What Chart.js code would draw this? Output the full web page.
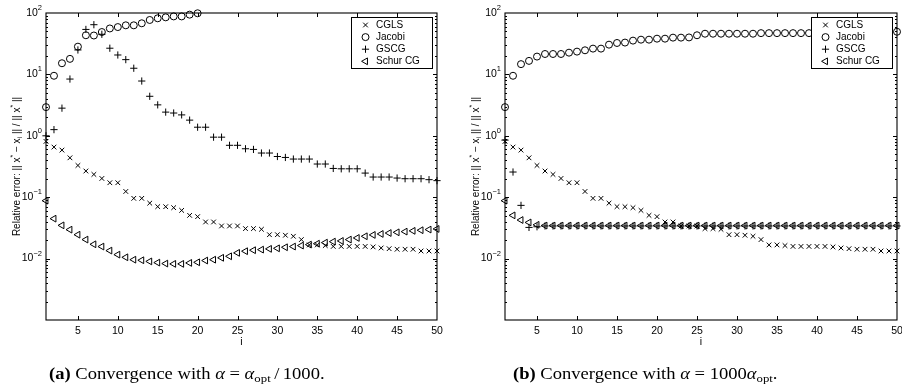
<!DOCTYPE html>
<html>
<head>
<meta charset="utf-8">
<script src="https://cdn.jsdelivr.net/npm/chart.js@4/dist/chart.umd.min.js"></script>
<style>
  html, body { margin: 0; padding: 0; background: #fff; }
  #wrap { position: relative; width: 902px; height: 391px; }
  #wrap canvas { position: absolute; top: 0; }
</style>
</head>
<body>
<div id="wrap">
  <canvas id="chartA" width="451" height="391" style="left:0"></canvas>
  <canvas id="chartB" width="451" height="391" style="left:451px"></canvas>
</div>
<script>
// iteration index and axis ticks
const ITER = [1,2,3,4,5,6,7,8,9,10,11,12,13,14,15,16,17,18,19,20,21,22,23,24,25,
              26,27,28,29,30,31,32,33,34,35,36,37,38,39,40,41,42,43,44,45,46,47,48,49,50];
const X_TICKS = [5, 10, 15, 20, 25, 30, 35, 40, 45, 50];
const Y_TICKS = [0.01, 0.1, 1, 10, 100];
const Y_TICK_EXP = ['\u22122', '\u22121', '0', '1', '2'];
const SERIES_NAMES = ['CGLS', 'Jacobi', 'GSCG', 'Schur CG'];

// CGLS does not depend on alpha, same curve in both panels
const CGLS = [0.81, 0.655, 0.585, 0.438, 0.329, 0.267, 0.235, 0.202, 0.172, 0.172,
              0.124, 0.0958, 0.0958, 0.080, 0.0702, 0.070, 0.0675, 0.061, 0.0506, 0.0482,
              0.0395, 0.0395, 0.034, 0.034, 0.034, 0.0308, 0.0308, 0.030, 0.0245, 0.0245,
              0.024, 0.0231, 0.0204, 0.0167, 0.0167, 0.0163, 0.0158, 0.0158, 0.0158, 0.0158,
              0.0158, 0.0155, 0.0149, 0.0145, 0.0142, 0.0142, 0.0142, 0.0133, 0.0133, 0.0133];

// (a) alpha = alpha_opt / 1000
const JACOBI_A = [2.93, 9.5, 15.2, 17.9, 28.3, 43.4, 43, 49, 56, 59,
                  63, 63, 68, 77, 82, 85, 88, 88, 94, 99,
                  null, null, null, null, null, null, null, null, null, null,
                  null, null, null, null, null, null, null, null, null, null,
                  null, null, null, null, null, null, null, null, null, null];
const GSCG_A = [1.0, 1.26, 2.82, 8.4, 25, 54, 64.5, 45, 26.7, 20.7,
                17.4, 12.6, 7.8, 4.4, 3.19, 2.43, 2.35, 2.19, 1.80, 1.38,
                1.38, 0.95, 0.95, 0.70, 0.70, 0.615, 0.60, 0.524, 0.524, 0.46,
                0.444, 0.418, 0.418, 0.418, 0.347, 0.347, 0.294, 0.29, 0.29, 0.29,
                0.247, 0.213, 0.213, 0.213, 0.205, 0.2, 0.2, 0.2, 0.193, 0.186];
const SCHUR_A = [0.0877, 0.0447, 0.0348, 0.0296, 0.0245, 0.0204, 0.0171, 0.0157, 0.0135, 0.0116,
                 0.0105, 0.0096, 0.0094, 0.0090, 0.0086, 0.0083, 0.0082, 0.0082, 0.0085, 0.0087,
                 0.0093, 0.0096, 0.0103, 0.0109, 0.0124, 0.0132, 0.0137, 0.0140, 0.0144, 0.0147,
                 0.0153, 0.0157, 0.0163, 0.0169, 0.0175, 0.0182, 0.0189, 0.0194, 0.0204, 0.0217,
                 0.0231, 0.0243, 0.0252, 0.0261, 0.0268, 0.0275, 0.0283, 0.0290, 0.0297, 0.0304];

// (b) alpha = 1000 alpha_opt
const JACOBI_B = [2.93, 9.5, 14.7, 16.6, 19.5, 21.5, 21.5, 21.5, 22.6, 23.5,
                  24.7, 26.3, 26.3, 30.5, 32.5, 33, 35.5, 36.8, 36.8, 38.2,
                  38.2, 39.7, 39.7, 40, 43.4, 46, 46, 46, 46, 46,
                  46, 46, 47, 47, 47, 47, 47, 47, 47, 48,
                  48, 48, 48, 48, 48, 48, 48, 48, 48, 49.5];
const GSCG_B = [0.85, 0.257, 0.0736, 0.0322, 0.033, 0.034, 0.034, 0.034, 0.034, 0.034,
                0.034, 0.034, 0.034, 0.034, 0.034, 0.034, 0.034, 0.034, 0.034, 0.034,
                0.034, 0.034, 0.034, 0.034, 0.034, 0.034, 0.034, 0.034, 0.034, 0.034,
                0.034, 0.034, 0.034, 0.034, 0.034, 0.034, 0.034, 0.034, 0.034, 0.034,
                0.034, 0.034, 0.034, 0.034, 0.034, 0.034, 0.034, 0.034, 0.034, 0.034];
const SCHUR_B = [0.0877, 0.0506, 0.0425, 0.0388, 0.0355, 0.0345, 0.0345, 0.0345, 0.0345, 0.0345,
                 0.0345, 0.0345, 0.0345, 0.0345, 0.0345, 0.0345, 0.0345, 0.0345, 0.0345, 0.0345,
                 0.0345, 0.0345, 0.0345, 0.0345, 0.0345, 0.0345, 0.0345, 0.0345, 0.0345, 0.0345,
                 0.0345, 0.0345, 0.0345, 0.0345, 0.0345, 0.0345, 0.0345, 0.0345, 0.0345, 0.0345,
                 0.0345, 0.0345, 0.0345, 0.0345, 0.0345, 0.0345, 0.0345, 0.0345, 0.0345, 0.0345];

const SANS = '"Liberation Sans", Arial, sans-serif';
const SERIF = '"Liberation Serif", "Times New Roman", serif';

// marker per method, matlab style (x, o, +, <)
const MARKERS = [
  { pointStyle: 'crossRot', radius: 3.3, rotation: 0 },
  { pointStyle: 'circle',   radius: 3.5, rotation: 0 },
  { pointStyle: 'cross',    radius: 3.6, rotation: 0 },
  { pointStyle: 'triangle', radius: 3.9, rotation: 270 }
];

// draw a row of text runs (for super/subscripts), returns end x
function drawRuns(ctx, parts, x, y) {
  let cx = x;
  parts.forEach(p => {
    ctx.font = p.font;
    ctx.fillText(p.t, cx, y + (p.dy || 0));
    cx += ctx.measureText(p.t).width + (p.gap || 0);
  });
  return cx;
}
function runsWidth(ctx, parts) {
  let w = 0;
  parts.forEach(p => { ctx.font = p.font; w += ctx.measureText(p.t).width + (p.gap || 0); });
  return w;
}

const panelDecor = {
  id: 'panelDecor',
  afterDatasetsDraw(chart, args, opts) {
    const { ctx, chartArea: a } = chart;
    const xs = chart.scales.x, ys = chart.scales.y;
    ctx.save();
    ctx.strokeStyle = '#000';
    ctx.fillStyle = '#000';
    ctx.lineWidth = 1.1;

    // frame
    ctx.strokeRect(a.left, a.top, a.right - a.left, a.bottom - a.top);

    // inward ticks, x on bottom and top
    ctx.lineWidth = 1;
    ctx.beginPath();
    X_TICKS.forEach(v => {
      if (v === 50) return;
      const px = Math.round(xs.getPixelForValue(v)) + 0.5;
      ctx.moveTo(px, a.bottom); ctx.lineTo(px, a.bottom - 4);
      ctx.moveTo(px, a.top); ctx.lineTo(px, a.top + 4);
    });
    // log ticks left and right, majors + minors
    for (let e = -3; e < 2; e++) {
      for (let m = 1; m < 10; m++) {
        if (m === 1 && e === -3) continue;
        const py = Math.round(ys.getPixelForValue(m * Math.pow(10, e))) + 0.5;
        const len = m === 1 ? 4 : 2;
        ctx.moveTo(a.left, py); ctx.lineTo(a.left + len, py);
        ctx.moveTo(a.right, py); ctx.lineTo(a.right - len, py);
      }
    }
    ctx.stroke();

    // tick labels
    ctx.textBaseline = 'middle';
    ctx.textAlign = 'center';
    ctx.font = '10.5px ' + SANS;
    X_TICKS.forEach(v => ctx.fillText(String(v), xs.getPixelForValue(v), a.bottom + 11));
    ctx.fillText('i', (a.left + a.right) / 2, a.bottom + 22.5);

    ctx.textAlign = 'left';
    Y_TICKS.forEach((v, k) => {
      const parts = [
        { t: '10', font: '10.5px ' + SANS },
        { t: Y_TICK_EXP[k], font: '7.5px ' + SANS, dy: -5 }
      ];
      const w = runsWidth(ctx, parts);
      drawRuns(ctx, parts, a.left - 4 - w, ys.getPixelForValue(v));
    });

    // y axis title, rotated
    const f = '10px ' + SANS, fs = '7px ' + SANS;
    const title = [
      { t: 'Relative error: || x', font: f },
      { t: '*', font: fs, dy: -4 },
      { t: ' \u2212 x', font: f },
      { t: 'i', font: fs, dy: 3 },
      { t: ' || / || x', font: f },
      { t: '*', font: fs, dy: -4 },
      { t: ' ||', font: f }
    ];
    ctx.save();
    ctx.translate(a.left - 29, (a.top + a.bottom) / 2);
    ctx.rotate(-Math.PI / 2);
    drawRuns(ctx, title, -runsWidth(ctx, title) / 2, 0);
    ctx.restore();

    // legend box, top right
    const bx = a.right - 85.5, by = a.top + 4.5, bw = 81, bh = 51;
    ctx.fillStyle = '#fff';
    ctx.fillRect(bx, by, bw, bh);
    ctx.strokeRect(bx, by, bw, bh);
    ctx.fillStyle = '#000';
    ctx.font = '10px ' + SANS;
    SERIES_NAMES.forEach((name, k) => {
      const ry = by + 7.5 + k * 12.1;
      const mk = MARKERS[k];
      ctx.save();
      ctx.fillStyle = 'rgba(0,0,0,0)';
      ctx.lineWidth = 1;
      Chart.helpers.drawPoint(ctx, { pointStyle: mk.pointStyle, radius: mk.radius, rotation: mk.rotation, borderWidth: 1 }, bx + 14, ry);
      ctx.restore();
      ctx.fillText(name, bx + 24.5, ry);
    });

    // caption under the panel (book serif is wider than Times, stretch a bit)
    ctx.textBaseline = 'alphabetic';
    ctx.save();
    ctx.translate(opts.capX, 379);
    ctx.scale(1.16, 1);
    drawRuns(ctx, opts.caption, 0, 0);
    ctx.restore();
    ctx.restore();
  }
};

function seriesData(vals) {
  return ITER.map((i, k) => ({ x: i, y: vals[k] }));
}

function makePanel(id, series, pad, caption, capX) {
  return new Chart(document.getElementById(id), {
    type: 'scatter',
    data: {
      datasets: series.map((vals, k) => ({
        label: SERIES_NAMES[k],
        data: seriesData(vals),
        showLine: false,
        clip: false,
        pointStyle: MARKERS[k].pointStyle,
        pointRadius: MARKERS[k].radius,
        pointRotation: MARKERS[k].rotation,
        pointBorderWidth: 1,
        borderColor: '#000',
        backgroundColor: 'rgba(0,0,0,0)'
      }))
    },
    options: {
      responsive: false,
      animation: false,
      events: [],
      layout: { padding: pad },
      scales: {
        x: { type: 'linear', min: 1, max: 50, display: false },
        y: { type: 'logarithmic', min: 0.001, max: 100, display: false }
      },
      plugins: {
        legend: { display: false },
        tooltip: { enabled: false },
        panelDecor: { caption, capX }
      }
    },
    plugins: [panelDecor]
  });
}

const capFont = '16px ' + SERIF;
makePanel('chartA', [CGLS, JACOBI_A, GSCG_A, SCHUR_A],
  { left: 46, top: 13, right: 14, bottom: 71 },
  [
    { t: '(a)', font: 'bold 16px ' + SERIF },
    { t: ' Convergence with ', font: capFont },
    { t: '\u03b1', font: 'italic 16px ' + SERIF },
    { t: ' = ', font: capFont },
    { t: '\u03b1', font: 'italic 16px ' + SERIF },
    { t: 'opt', font: '11px ' + SERIF, dy: 3, gap: 3 },
    { t: '/', font: capFont, gap: 3 },
    { t: '1000.', font: capFont }
  ], 49);

makePanel('chartB', [CGLS, JACOBI_B, GSCG_B, SCHUR_B],
  { left: 54, top: 13, right: 5, bottom: 71 },
  [
    { t: '(b)', font: 'bold 16px ' + SERIF },
    { t: ' Convergence with ', font: capFont },
    { t: '\u03b1', font: 'italic 16px ' + SERIF },
    { t: ' = 1000', font: capFont },
    { t: '\u03b1', font: 'italic 16px ' + SERIF },
    { t: 'opt', font: '11px ' + SERIF, dy: 3 },
    { t: '.', font: capFont }
  ], 62);
</script>
</body>
</html>
